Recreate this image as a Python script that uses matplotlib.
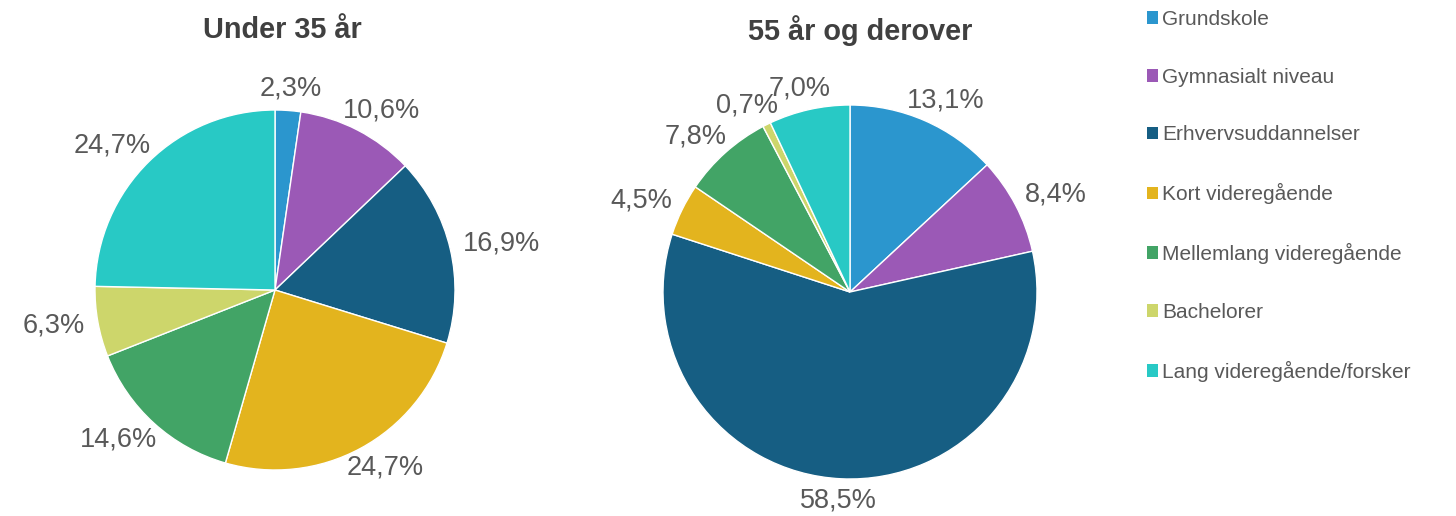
import numpy as np
import matplotlib
matplotlib.use('Agg')
import matplotlib.pyplot as plt
from matplotlib.patches import Patch

plt.rcParams['font.family'] = ['Liberation Sans', 'DejaVu Sans']

# Data
categories = ['Grundskole', 'Gymnasialt niveau', 'Erhvervsuddannelser', 'Kort videregående',
              'Mellemlang videregående', 'Bachelorer', 'Lang videregående/forsker']
under_35 = [2.3, 10.6, 16.9, 24.7, 14.6, 6.3, 24.7]
over_55 = [13.1, 8.4, 58.5, 4.5, 7.8, 0.7, 7.0]
titles = ['Under 35 år', '55 år og derover']

colors = ['#2B96CE', '#9B59B6', '#165E83', '#E3B41E', '#42A466', '#CDD66B', '#28C9C5']
TEXT = '#595959'
TITLE = '#404040'

W, H = 1456, 516
fig = plt.figure(figsize=(W / 100, H / 100), dpi=100)


def draw_pie(cx, cy, r, values, title, title_x, title_y):
    ax = fig.add_axes([(cx - r) / W, (H - cy - r) / H, 2 * r / W, 2 * r / H])
    wedges, _ = ax.pie(values, colors=colors, startangle=90, counterclock=False,
                       radius=1, wedgeprops=dict(edgecolor='white', linewidth=1))
    ax.set_xlim(-1, 1)
    ax.set_ylim(-1, 1)
    ax.set_aspect('equal')
    ax.axis('off')

    # Excel-style "outside end" labels: box edge sits a fixed gap from the rim
    renderer = fig.canvas.get_renderer()
    gap = 14 / r
    for w, v in zip(wedges, values):
        ang = np.deg2rad((w.theta1 + w.theta2) / 2)
        t = ax.text(0, 0, f'{v:.1f}%'.replace('.', ','), ha='center', va='center',
                    fontsize=19.5, color=TEXT, clip_on=False)
        bb = t.get_window_extent(renderer)
        hw = bb.width / 2 / r
        hh = bb.height / 2 / r * 0.6
        x = (1 + gap) * np.cos(ang) + hw * np.cos(ang)
        y = (1 + gap) * np.sin(ang) + hh * np.sin(ang)
        t.set_position((x, y))

    fig.text(title_x / W, 1 - title_y / H, title, ha='center', va='center',
             fontsize=20.8, fontweight='bold', color=TITLE)


draw_pie(275, 290, 180, under_35, titles[0], 282, 30)
draw_pie(850, 292, 187, over_55, titles[1], 860, 31)

handles = [Patch(facecolor=c, edgecolor='none') for c in colors]
leg = fig.legend(handles, categories, loc='upper left', bbox_to_anchor=(1147 / W, 1 - 10 / H),
                 frameon=False, fontsize=15, handlelength=0.55, handleheight=0.55,
                 handletextpad=0.18, labelspacing=1.86, borderpad=0, borderaxespad=0)
for txt in leg.get_texts():
    txt.set_color(TEXT)

fig.savefig('out.png', dpi=100)
